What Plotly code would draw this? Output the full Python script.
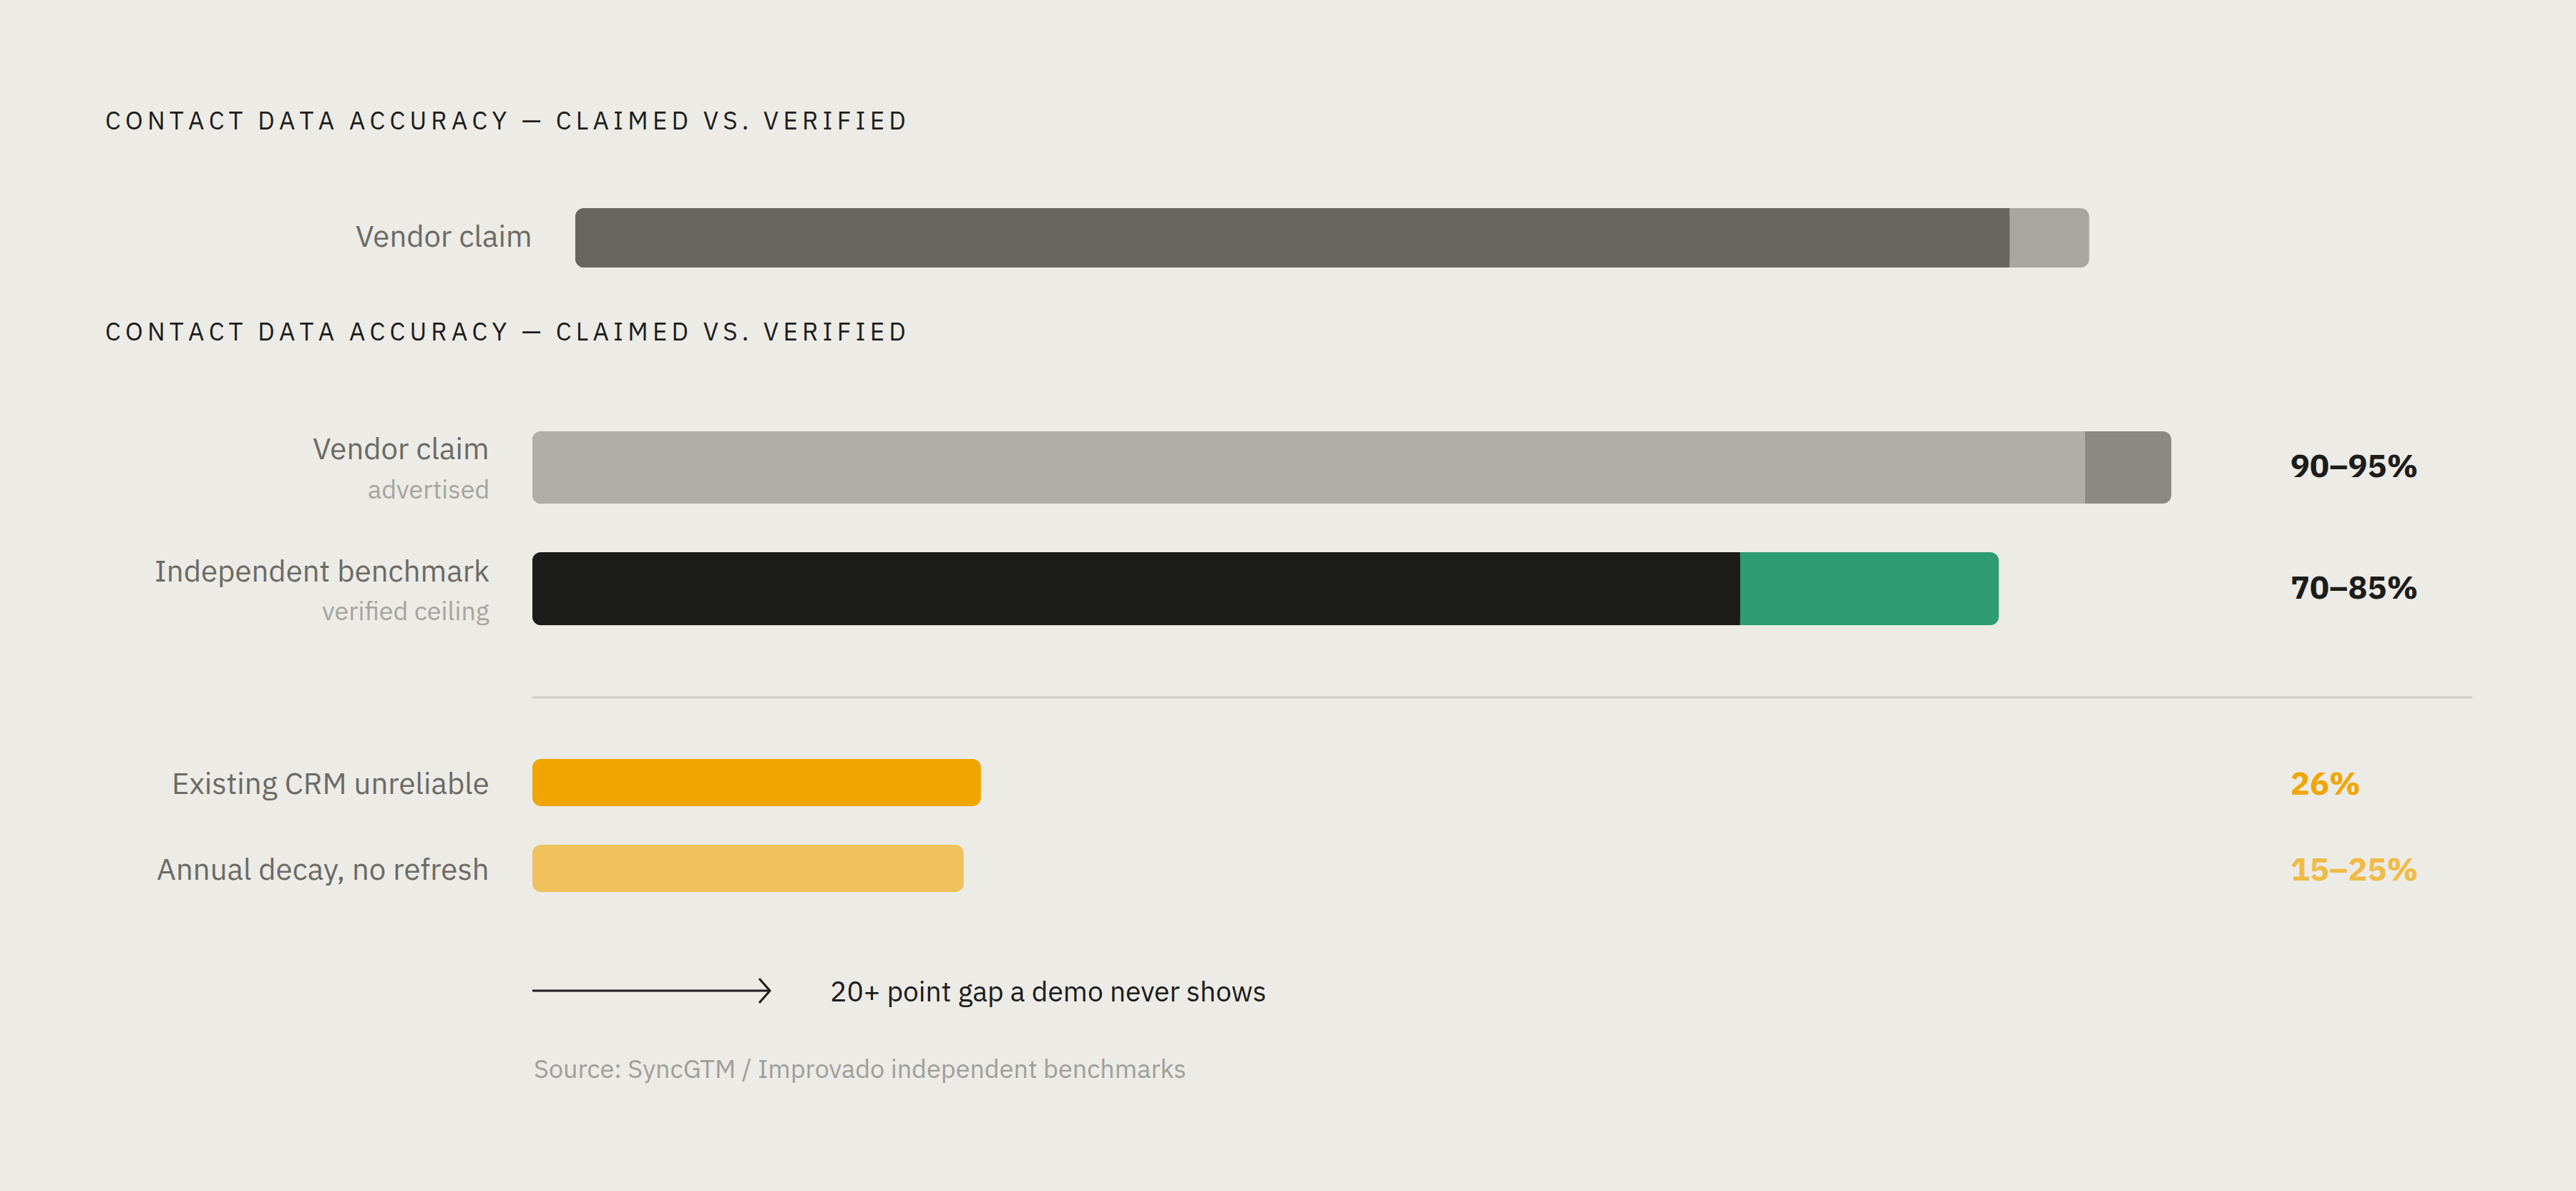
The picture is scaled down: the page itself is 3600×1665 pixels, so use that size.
import plotly.graph_objects as go

# ---- data ----
title = "CONTACT DATA ACCURACY — CLAIMED VS. VERIFIED"

top_label = "Vendor claim"
top_low = 90
top_high = 95

row_labels = ["Vendor claim", "Independent benchmark", "Existing CRM unreliable", "Annual decay, no refresh"]
row_sublabels = ["advertised", "verified ceiling", "", ""]
row_low = [90, 70, 26, 25]
row_high = [95, 85, 26, 25]
row_text = ["90–95%", "70–85%", "26%", "15–25%"]

gap_note = "20+ point gap a demo never shows"
source = "Source: SyncGTM / Improvado independent benchmarks"

# ---- styling ----
W, H = 3600, 1665
BG = "#ecebe6"
FONT = "IBM Plex Sans, Roboto, sans-serif"
INK = "#1c1c1a"
LABEL = "#6b6a65"
SUB = "#a6a49f"

row_colors_left = ["#afaea8", "#1c1c1a", "#f0a500", "#f0c15c"]
row_colors_right = ["#8a8984", "#2e9b72", "#f0a500", "#f0c15c"]
value_colors = [INK, INK, "#f0a500", "#f0bb45"]

# row layout (pixel rows on y axes that run 0..H top to bottom)
top_y, top_th = 332.5, 83
row_y = [653.5, 823, 1094, 1214]
row_th = [101, 102, 66, 66]
label_y = [627, 797, 1094, 1214]
sub_y = [683, 853]
value_y = [650, 820, 1094, 1214]
RADIUS = 12


def px(x):
    return x / W


def py(y):
    return 1 - y / H


fig = go.Figure()


def bar(xaxis, yaxis, y, th, base, length, color, radius):
    fig.add_trace(go.Bar(
        y=[y], x=[length], base=[base], width=[th], orientation="h",
        marker=dict(color=color, cornerradius=radius, line=dict(width=0)),
        xaxis=xaxis, yaxis=yaxis, showlegend=False, hoverinfo="skip",
    ))


def add_row(xaxis, yaxis, y, th, low, high, c_left, c_right):
    # full rounded bar in the end colour, then the first segment laid over it
    bar(xaxis, yaxis, y, th, 0, high, c_right, RADIUS)
    if high > low:
        bar(xaxis, yaxis, y, th, 0, low, c_left, RADIUS)
        # square piece so the join between the two segments stays straight
        bar(xaxis, yaxis, y, th, low / 2, low / 2, c_left, 0)


add_row("x", "y", top_y, top_th, top_low, top_high, "#676560", "#a8a6a1")
for i in range(len(row_labels)):
    add_row("x2", "y2", row_y[i], row_th[i], row_low[i], row_high[i],
            row_colors_left[i], row_colors_right[i])

ann = []


def text(x, y, s, size, color, anchor="left", weight="normal"):
    ann.append(dict(
        x=px(x), y=py(y), xref="paper", yref="paper", text=s, showarrow=False,
        xanchor=anchor, yanchor="middle",
        font=dict(family=FONT, size=size, color=color, weight=weight),
    ))


# letter-spaced heading (thin + hair space between the letters)
spaced_title = "\u2009\u200a".join(title)

text(145, 168, spaced_title, 35, INK)
text(145, 463, spaced_title, 35, INK)
text(746, 330, top_label, 42, LABEL, "right")

for i, lab in enumerate(row_labels):
    text(686, label_y[i], lab, 42, LABEL, "right")
    if row_sublabels[i]:
        text(686, sub_y[i], row_sublabels[i], 36, SUB, "right")
    text(3199, value_y[i], row_text[i], 45, value_colors[i], weight="bold")

text(1158, 1385, gap_note, 39, INK)
text(744, 1493, source, 36, "#a09e99")

shapes = [
    # divider between the accuracy rows and the decay rows
    dict(type="line", xref="paper", yref="paper", x0=px(744), x1=px(3455),
         y0=py(975), y1=py(975), line=dict(color="#cfccc5", width=3)),
    # arrow next to the gap note
    dict(type="line", xref="paper", yref="paper", x0=px(744), x1=px(1075),
         y0=py(1385), y1=py(1385), line=dict(color=INK, width=3)),
    dict(type="path", xref="paper", yref="paper",
         path=f"M {px(1061)},{py(1368)} L {px(1076)},{py(1385)} L {px(1061)},{py(1402)}",
         line=dict(color=INK, width=3)),
]

axis_off = dict(showgrid=False, zeroline=False, showticklabels=False, showline=False,
                fixedrange=True)

fig.update_layout(
    width=W, height=H,
    margin=dict(l=0, r=0, t=0, b=0),
    paper_bgcolor=BG, plot_bgcolor="rgba(0,0,0,0)",
    barmode="overlay",
    xaxis=dict(domain=[px(804), px(804 + 2227)], range=[0, 100], anchor="y", **axis_off),
    yaxis=dict(domain=[0, 1], range=[H, 0], anchor="x", **axis_off),
    xaxis2=dict(domain=[px(744), px(744 + 2411)], range=[0, 100], anchor="y2", **axis_off),
    yaxis2=dict(domain=[0, 1], range=[H, 0], anchor="x2", **axis_off),
    annotations=ann,
    shapes=shapes,
    showlegend=False,
)

fig.write_html("out.html", config={"displayModeBar": False},
               post_script="document.body.style.margin='0';")
